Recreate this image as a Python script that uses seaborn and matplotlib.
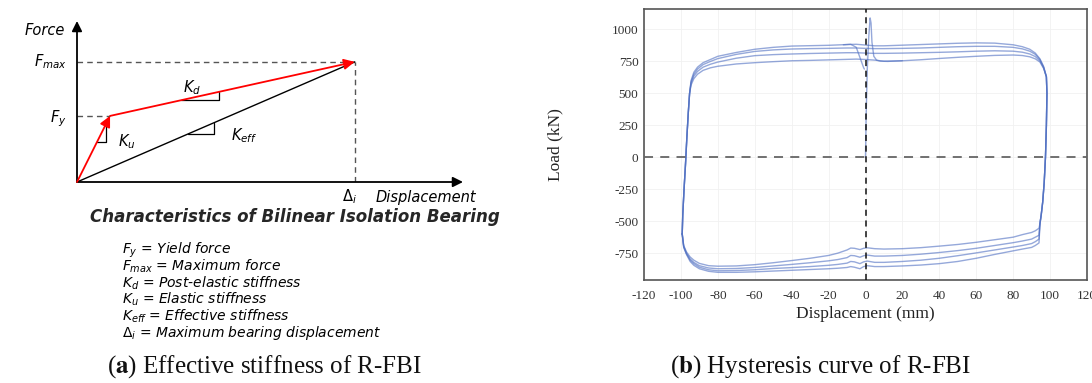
import numpy as np
import pandas as pd
import matplotlib
matplotlib.use("Agg")
import matplotlib.pyplot as plt
import seaborn as sns

# ---------------- Panel (a): bilinear isolation bearing model (normalised) ----------------
model_disp = [0.0, 0.119, 1.0]      # origin, yield displacement, Δi
model_force = [0.0, 0.55, 1.0]      # origin, Fy, Fmax
legend_lines = [
    r"$F_{y}$ = Yield force",
    r"$F_{max}$ = Maximum force",
    r"$K_{d}$ = Post-elastic stiffness",
    r"$K_{u}$ = Elastic stiffness",
    r"$K_{eff}$ = Effective stiffness",
    r"$\Delta_{i}$ = Maximum bearing displacement",
]

# ---------------- Panel (b): hysteresis loops read from the test record ----------------
left_x = [-99.3, -99.0, -98.3, -97.5, -96.8, -96.0, -95.3]
left_y = [-600, -450, -250, -50, 150, 350, 500]

top_x = [-94.5, -93, -91, -88, -84, -80, -70, -60, -50, -40, -30, -20, -10, -5, 0,
         5, 10, 20, 30, 40, 50, 60, 70, 80, 85, 89, 92, 94.5, 96.5, 98]
top_y1 = [600, 665, 705, 740, 765, 790, 820, 845, 860, 870, 873, 876, 882, 884, 878,
          872, 872, 877, 882, 887, 892, 895, 893, 880, 865, 845, 815, 770, 710, 630]
top_y2 = [590, 650, 690, 725, 750, 772, 805, 828, 840, 847, 850, 852, 855, 855, 852,
          850, 850, 852, 855, 860, 865, 868, 868, 860, 848, 830, 805, 765, 705, 630]
top_y3 = [580, 635, 672, 705, 728, 745, 775, 795, 803, 808, 812, 815, 818, 818, 815,
          813, 813, 815, 818, 821, 825, 830, 833, 830, 822, 808, 788, 755, 700, 630]
top_y4 = [565, 615, 650, 680, 700, 712, 730, 740, 748, 755, 758, 762, 766, 768, 765,
          760, 752, 755, 763, 773, 782, 790, 797, 800, 796, 786, 770, 745, 695, 630]

right_x = [98.3, 98.0, 97.5, 96.8, 96.0, 95.2, 94.5]
right_y = [500, 250, 0, -200, -350, -450, -520]

bottom_x = [94, 92, 90, 85, 80, 70, 60, 50, 40, 30, 20, 10, 5, 1, -1, -3, -6, -8, -10,
            -15, -20, -30, -40, -50, -60, -70, -80, -85, -90, -93, -95, -97, -98.5]
bottom_y1 = [-670, -690, -705, -718, -732, -760, -790, -815, -832, -843, -850, -855, -855,
             -848, -855, -872, -860, -855, -862, -868, -872, -878, -884, -890, -896, -900,
             -900, -892, -872, -845, -815, -760, -705]
bottom_y2 = [-640, -660, -675, -690, -702, -725, -748, -770, -790, -805, -815, -822, -822,
             -812, -818, -832, -818, -815, -828, -838, -845, -855, -863, -870, -880, -886,
             -888, -880, -860, -832, -805, -755, -700]
bottom_y3 = [-610, -625, -640, -655, -668, -690, -712, -730, -745, -758, -768, -773, -773,
             -765, -770, -782, -770, -768, -785, -800, -810, -825, -838, -850, -862, -870,
             -872, -866, -848, -822, -795, -750, -695]
bottom_y4 = [-555, -575, -588, -605, -625, -645, -665, -682, -695, -707, -715, -718, -715,
             -708, -712, -722, -712, -710, -725, -750, -768, -790, -808, -825, -840, -850,
             -852, -848, -830, -805, -780, -740, -690]

spike_x = [0.0, 0.3, 1.0, 1.8, 2.5, 3.0, 3.5, 4.5, 6.0, 8.0, 12.0, 20.0]
spike_y = [0, 300, 700, 950, 1090, 1050, 900, 790, 760, 752, 750, 755]
end_x = [-12.0, -8.0, -5.0, -3.5, -2.0, -1.0, -0.6]
end_y = [880, 884, 860, 800, 740, 700, 690]

x_ticks = list(range(-120, 121, 20))
y_ticks = [-750, -500, -250, 0, 250, 500, 750, 1000]

# ---------------- figure ----------------
sns.set_theme(style="white")
plt.rcParams["axes.unicode_minus"] = False
W, H = 1092, 383
fig = plt.figure(figsize=(W / 100, H / 100), dpi=100)
fig.patch.set_facecolor("white")

sans = "DejaVu Sans"
serif = "Liberation Serif"

# ---- panel (a)
axA = fig.add_axes([77 / W, 1 - 182 / H, 386 / W, 161 / H])
axA.set_xlim(0, 1.39)
axA.set_ylim(0, 1.34)
axA.axis("off")

arrow_k = dict(arrowstyle="-|>", color="black", lw=1.3, mutation_scale=15, shrinkA=0, shrinkB=0)
axA.annotate("", xy=(1.39, 0), xytext=(0, 0), arrowprops=arrow_k, annotation_clip=False)
axA.annotate("", xy=(0, 1.34), xytext=(0, 0), arrowprops=arrow_k, annotation_clip=False)

d0, dy, di = model_disp
f0, fy, fm = model_force
dash = dict(color="#555555", lw=1.0, ls=(0, (4, 3)))
axA.plot([0, di], [fm, fm], **dash)
axA.plot([di, di], [0, fm], **dash)
axA.plot([0, dy], [fy, fy], **dash)

sns.lineplot(x=[d0, di], y=[f0, fm], ax=axA, color="black", lw=1.0)

arrow_r = dict(arrowstyle="-|>", color="red", lw=1.3, mutation_scale=16, shrinkA=0, shrinkB=0)
axA.annotate("", xy=(dy, fy), xytext=(d0, f0), arrowprops=arrow_r)
axA.annotate("", xy=(di, fm), xytext=(dy, fy), arrowprops=arrow_r)

# slope markers
def on_line(xa, xb, ya, yb, x):
    return ya + (yb - ya) * (x - xa) / (xb - xa)

def slope_marker(x1, x2, xa, xb, ya, yb):
    y1 = on_line(xa, xb, ya, yb, x1)
    y2 = on_line(xa, xb, ya, yb, x2)
    axA.plot([x1, x2, x2], [y1, y1, y2], color="black", lw=0.9)

slope_marker(0.072, 0.104, d0, dy, f0, fy)
slope_marker(0.374, 0.511, dy, di, fy, fm)
slope_marker(0.40, 0.493, d0, di, f0, fm)

lab = dict(family=sans, style="italic", fontsize=10.5, color="black", math_fontfamily="dejavusans")
axA.text(-0.043, 1.258, "Force", ha="right", va="center", **lab)
axA.text(-0.036, fm, r"$F_{max}$", ha="right", va="center", **lab)
axA.text(-0.036, fy - 0.02, r"$F_{y}$", ha="right", va="center", **lab)
axA.text(0.147, 0.333, r"$K_{u}$", ha="left", va="center", **lab)
axA.text(0.381, 0.71, r"$K_{d}$", ha="left", va="bottom", **lab)
axA.text(0.554, 0.383, r"$K_{eff}$", ha="left", va="center", **lab)
axA.text(0.98, -0.125, r"$\Delta_{i}$", ha="center", va="center", **lab)
axA.text(1.075, -0.125, "Displacement", ha="left", va="center", **lab)

fig.text(295 / W, 1 - 217 / H, "Characteristics of Bilinear Isolation Bearing",
         family=sans, style="italic", weight="bold", fontsize=12, ha="center", va="center")
leg = dict(lab, fontsize=10)
for i, line in enumerate(legend_lines):
    fig.text(122 / W, 1 - (250 + i * 16.5) / H, line, ha="left", va="center", **leg)

cap = dict(family=serif, fontsize=18, color="#111111", math_fontfamily="stix", va="baseline", ha="left")
fig.text(107 / W, 1 - 373 / H, r"($\mathbf{a}$) Effective stiffness of R-FBI", **cap)
fig.text(670 / W, 1 - 373 / H, r"($\mathbf{b}$) Hysteresis curve of R-FBI", **cap)

# ---- panel (b)
axB = fig.add_axes([644 / W, 1 - 280 / H, 443 / W, 271 / H])
frames = []
for k, (ty, by) in enumerate([(top_y1, bottom_y1), (top_y2, bottom_y2),
                              (top_y3, bottom_y3), (top_y4, bottom_y4)]):
    xs = left_x + top_x + right_x + bottom_x + [left_x[0]]
    ys = left_y + ty + right_y + by + [left_y[0]]
    frames.append(pd.DataFrame({"disp": xs, "load": ys, "curve": f"cycle {k + 1}"}))
frames.append(pd.DataFrame({"disp": spike_x, "load": spike_y, "curve": "start"}))
frames.append(pd.DataFrame({"disp": end_x, "load": end_y, "curve": "end"}))
df = pd.concat(frames, ignore_index=True)

curves = list(dict.fromkeys(df["curve"]))
pal = {c: "#4f6fc2" for c in curves}
sns.lineplot(data=df, x="disp", y="load", hue="curve", palette=pal, sort=False,
             estimator=None, legend=False, ax=axB, lw=1.0, alpha=0.6, zorder=3)

axB.axhline(0, color="#666666", lw=1.3, ls=(0, (5, 4)), zorder=4)
axB.axvline(0, color="#111111", lw=1.1, ls=(0, (4, 3)), zorder=4)

axB.set_xlim(-120, 120)
axB.set_ylim(-960, 1160)
axB.set_xticks(x_ticks)
axB.set_yticks(y_ticks)
axB.grid(True, color="#f1f1f1", lw=0.6)
axB.tick_params(length=0, labelsize=9.5, labelcolor="#333333", pad=4)
axB.tick_params(axis="x", pad=7)
for lbl in axB.get_xticklabels() + axB.get_yticklabels():
    lbl.set_family(serif)
for s in axB.spines.values():
    s.set_visible(True)
    s.set_color("#555555")
    s.set_linewidth(1.2)
axB.set_xlabel("Displacement (mm)", family=serif, fontsize=12.5, color="#222222")
axB.set_ylabel("Load (kN)", family=serif, fontsize=12.5, color="#222222")
axB.xaxis.set_label_coords(0.5, -0.096)
axB.yaxis.set_label_coords(-0.181, 0.5)

fig.savefig("out.png", dpi=100, facecolor="white")
